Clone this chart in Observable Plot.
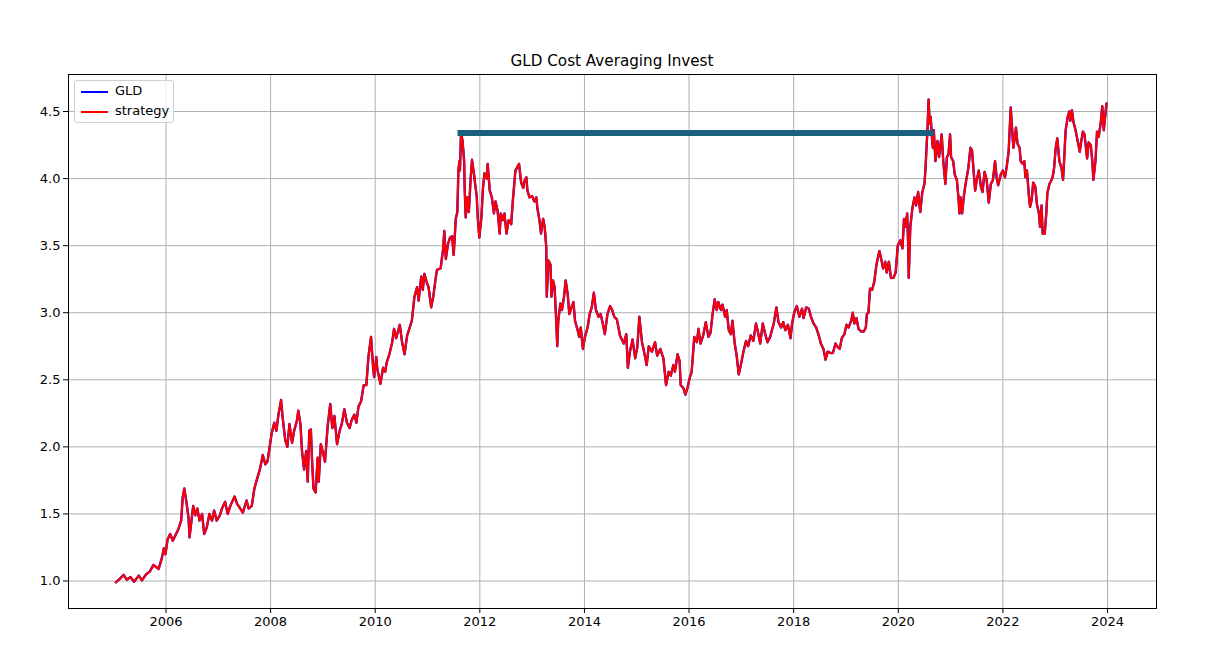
<!DOCTYPE html>
<html>
<head>
<meta charset="utf-8">
<script src="https://cdn.jsdelivr.net/npm/d3@7"></script>
<script src="https://cdn.jsdelivr.net/npm/@observablehq/plot@0.6"></script>
<style>
  html, body { margin: 0; padding: 0; background: white; }
  #wrap { position: relative; width: 1218px; height: 662px; font-family: "DejaVu Sans", sans-serif; }
  #title { position: absolute; left: 68px; width: 1088px; top: 52px; text-align: center; font-size: 15.2px; color: black; }
  #legend { position: absolute; left: 74px; top: 80px; width: 98px; height: 41px; border: 1px solid #d0d0d0; border-radius: 3px; background: rgba(255,255,255,0.8); font-size: 13px; }
  .item { position: absolute; left: 6px; height: 16px; }
  .swatch { position: absolute; left: 0; top: 7px; width: 27px; height: 2px; }
  .lab { position: absolute; left: 34px; top: -1px; white-space: nowrap; }
</style>
</head>
<body>
<div id="wrap">
  <div id="chart"></div>
  <div id="title">GLD Cost Averaging Invest</div>
  <div id="legend">
    <div class="item" style="top:3px"><div class="swatch" style="background:#0000ff"></div><div class="lab">GLD</div></div>
    <div class="item" style="top:23px"><div class="swatch" style="background:#ff0000"></div><div class="lab">strategy</div></div>
  </div>
</div>
<script>
// Time in decimal years, normalised price
const years = [
  2005.04,2005.10,2005.19,2005.25,2005.32,2005.39,2005.48,2005.54,2005.62,2005.69,2005.76,2005.86,2005.92,2005.96,2005.99,
  2006.03,2006.08,2006.13,2006.18,2006.24,2006.29,2006.32,2006.35,2006.39,2006.43,2006.45,2006.48,2006.52,2006.56,2006.60,2006.64,2006.69,2006.73,2006.78,2006.83,2006.88,2006.92,2006.97,
  2007.03,2007.07,2007.13,2007.18,2007.23,2007.31,2007.36,2007.42,2007.47,2007.54,2007.58,2007.64,2007.69,2007.74,2007.80,2007.85,2007.90,2007.94,2007.99,
  2008.02,2008.07,2008.11,2008.15,2008.20,2008.23,2008.28,2008.32,2008.36,2008.41,2008.45,2008.50,2008.53,2008.57,2008.60,2008.64,2008.68,2008.71,2008.74,2008.77,2008.79,2008.82,2008.86,2008.90,2008.92,2008.96,
  2009.00,2009.04,2009.09,2009.14,2009.18,2009.22,2009.27,2009.32,2009.36,2009.41,2009.46,2009.51,2009.55,2009.60,2009.64,2009.68,2009.73,2009.78,2009.83,2009.87,2009.92,2009.96,2009.98,
  2010.02,2010.04,2010.10,2010.15,2010.19,2010.22,2010.27,2010.32,2010.36,2010.40,2010.47,2010.51,2010.56,2010.61,2010.66,2010.70,2010.75,2010.80,2010.83,2010.88,2010.91,2010.94,2010.99,
  2011.02,2011.07,2011.11,2011.15,2011.18,2011.25,2011.30,2011.32,2011.35,2011.39,2011.43,2011.47,2011.50,2011.54,2011.57,2011.59,2011.61,2011.62,2011.64,2011.67,2011.70,2011.71,2011.73,2011.76,2011.79,2011.82,2011.85,2011.89,2011.91,2011.94,2011.96,2011.99,
  2012.03,2012.06,2012.09,2012.13,2012.15,2012.19,2012.23,2012.27,2012.30,2012.34,2012.38,2012.40,2012.44,2012.47,2012.51,2012.55,2012.60,2012.63,2012.68,2012.71,2012.75,2012.79,2012.83,2012.85,2012.89,2012.91,2012.95,
  2013.00,2013.04,2013.08,2013.10,2013.14,2013.17,2013.21,2013.24,2013.27,2013.28,2013.31,2013.35,2013.37,2013.40,2013.43,2013.46,2013.48,2013.50,2013.54,2013.57,2013.61,2013.64,2013.68,2013.71,2013.75,2013.79,2013.82,2013.87,2013.90,2013.93,2013.97,
  2014.01,2014.06,2014.10,2014.14,2014.18,2014.22,2014.27,2014.31,2014.35,2014.39,2014.44,2014.49,2014.53,2014.57,2014.62,2014.68,2014.75,2014.80,2014.83,2014.87,2014.92,2014.97,
  2015.01,2015.05,2015.10,2015.14,2015.19,2015.23,2015.29,2015.35,2015.39,2015.45,2015.51,2015.56,2015.61,2015.65,2015.70,2015.73,2015.78,2015.82,2015.84,2015.89,2015.93,2015.97,
  2016.01,2016.05,2016.10,2016.15,2016.18,2016.22,2016.27,2016.32,2016.37,2016.41,2016.45,2016.49,2016.53,2016.56,2016.61,2016.64,2016.69,2016.72,2016.76,2016.80,2016.83,2016.87,2016.91,2016.95,2016.99,
  2017.04,2017.09,2017.13,2017.18,2017.23,2017.28,2017.32,2017.36,2017.41,2017.45,2017.50,2017.55,2017.62,2017.67,2017.71,2017.76,2017.80,2017.84,2017.89,2017.94,2017.97,
  2018.01,2018.06,2018.11,2018.16,2018.19,2018.24,2018.29,2018.33,2018.38,2018.43,2018.48,2018.52,2018.57,2018.61,2018.65,2018.70,2018.75,2018.80,2018.83,2018.88,2018.92,2018.97,
  2019.01,2019.05,2019.10,2019.13,2019.16,2019.20,2019.24,2019.29,2019.34,2019.38,2019.40,2019.43,2019.46,2019.50,2019.54,2019.58,2019.61,2019.64,2019.68,2019.71,2019.75,2019.78,2019.82,2019.86,2019.91,2019.95,2019.99,
  2020.04,2020.08,2020.11,2020.14,2020.17,2020.19,2020.20,2020.23,2020.27,2020.31,2020.34,2020.38,2020.42,2020.46,2020.50,2020.52,2020.54,2020.56,2020.58,2020.60,2020.62,2020.64,2020.66,2020.68,2020.71,2020.75,2020.78,2020.83,2020.86,2020.90,2020.93,2020.96,2020.99,
  2021.01,2021.05,2021.08,2021.12,2021.15,2021.17,2021.19,2021.22,2021.26,2021.30,2021.34,2021.38,2021.41,2021.44,2021.47,2021.50,2021.54,2021.58,2021.61,2021.65,2021.69,2021.73,2021.77,2021.81,2021.85,2021.88,2021.91,2021.96,
  2022.00,2022.04,2022.07,2022.11,2022.15,2022.17,2022.20,2022.23,2022.25,2022.28,2022.32,2022.34,2022.38,2022.41,2022.43,2022.46,2022.50,2022.52,2022.55,2022.58,2022.62,2022.65,2022.69,2022.71,2022.74,2022.76,2022.80,2022.83,2022.85,2022.89,2022.93,2022.95,2022.98,
  2023.01,2023.04,2023.08,2023.12,2023.15,2023.17,2023.20,2023.24,2023.27,2023.29,2023.32,2023.35,2023.39,2023.43,2023.47,2023.49,2023.53,2023.56,2023.58,2023.61,2023.64,2023.68,2023.71,2023.73,2023.77,2023.80,2023.83,2023.87,2023.90,2023.93,2023.96,2023.98
];
const gld = [
  0.99,1.01,1.045,1.01,1.03,0.995,1.04,1.005,1.05,1.07,1.12,1.09,1.17,1.245,1.2,
  1.31,1.35,1.30,1.34,1.39,1.45,1.625,1.69,1.59,1.475,1.325,1.425,1.56,1.49,1.54,1.45,1.50,1.35,1.40,1.50,1.45,1.525,1.45,
  1.49,1.54,1.59,1.50,1.56,1.63,1.575,1.54,1.51,1.60,1.54,1.56,1.69,1.76,1.84,1.94,1.87,1.89,2.02,
  2.10,2.18,2.12,2.24,2.35,2.22,2.05,2.00,2.17,2.03,2.12,2.19,2.27,2.17,1.97,1.83,1.97,1.74,2.12,2.13,1.92,1.69,1.66,1.92,1.74,2.02,
  1.96,1.89,2.15,2.32,2.14,2.23,2.02,2.12,2.17,2.28,2.18,2.14,2.20,2.24,2.18,2.30,2.34,2.46,2.46,2.67,2.82,2.59,2.52,
  2.67,2.58,2.47,2.59,2.56,2.63,2.69,2.77,2.88,2.81,2.91,2.79,2.69,2.83,2.89,2.94,3.12,3.19,3.09,3.27,3.17,3.29,3.22,
  3.19,3.04,3.12,3.24,3.32,3.33,3.48,3.61,3.40,3.51,3.56,3.57,3.43,3.70,3.75,4.06,4.13,4.06,4.34,4.28,4.13,3.93,3.71,3.86,3.75,3.97,4.14,4.03,3.96,3.87,3.71,3.56,
  3.71,3.93,4.04,4.00,4.11,3.91,3.86,3.74,3.83,3.76,3.59,3.74,3.69,3.74,3.59,3.69,3.66,3.83,4.06,4.08,4.11,3.97,3.93,3.98,4.01,3.91,3.86,
  3.87,3.83,3.86,3.78,3.69,3.59,3.70,3.64,3.49,3.12,3.39,3.36,3.12,3.24,3.19,2.94,2.75,2.94,3.07,3.02,3.12,3.24,3.14,2.99,3.04,3.08,2.94,2.87,2.82,2.89,2.73,
  2.82,2.89,2.99,3.04,3.15,3.02,2.97,2.99,2.92,2.84,2.99,3.05,3.02,2.97,2.95,2.83,2.77,2.84,2.59,2.71,2.80,2.66,
  2.74,2.97,2.78,2.71,2.61,2.75,2.71,2.78,2.68,2.73,2.66,2.46,2.56,2.53,2.61,2.56,2.69,2.64,2.46,2.44,2.39,2.44,
  2.51,2.56,2.82,2.78,2.88,2.77,2.83,2.93,2.82,2.85,2.99,3.10,3.02,3.08,3.02,3.06,2.97,3.02,2.87,2.84,2.94,2.78,2.68,2.54,2.61,
  2.71,2.79,2.75,2.83,2.79,2.92,2.85,2.77,2.92,2.85,2.78,2.82,2.92,3.04,2.93,2.89,2.93,2.87,2.91,2.81,2.92,
  3.00,3.05,2.97,3.03,2.96,3.04,3.03,2.97,2.92,2.89,2.83,2.77,2.73,2.65,2.71,2.70,2.70,2.77,2.75,2.73,2.81,2.84,
  2.91,2.89,2.94,3.00,2.92,2.96,2.88,2.86,2.86,2.89,2.99,3.00,3.18,3.17,3.23,3.35,3.41,3.46,3.39,3.33,3.38,3.30,3.38,3.26,3.26,3.30,3.50,
  3.54,3.48,3.70,3.64,3.74,3.49,3.26,3.64,3.78,3.86,3.80,3.90,3.75,3.90,3.96,4.07,4.23,4.38,4.59,4.41,4.46,4.33,4.23,4.36,4.13,4.28,4.16,4.33,4.13,3.96,4.16,4.18,4.33,
  4.16,4.13,4.03,3.99,3.86,3.74,3.86,3.74,3.89,3.99,4.08,4.23,4.21,4.06,3.91,3.99,4.06,3.94,3.90,4.05,3.99,3.82,3.96,3.99,4.13,4.01,3.95,4.03,
  4.06,4.01,4.08,4.20,4.53,4.41,4.23,4.31,4.38,4.26,4.23,4.13,4.11,4.13,4.01,4.06,3.86,3.79,3.84,3.97,3.94,3.81,3.74,3.64,3.80,3.59,3.59,3.74,3.89,3.96,3.99,4.01,4.08,
  4.23,4.30,4.13,4.08,3.99,4.13,4.36,4.46,4.50,4.43,4.51,4.42,4.36,4.28,4.20,4.26,4.35,4.33,4.26,4.15,4.27,4.25,4.13,3.99,4.13,4.35,4.31,4.41,4.54,4.36,4.48,4.56
];
// The strategy line sits exactly on top of GLD in the reference
const strategy = gld;

// Longest drawdown period (bar)
const ddStart = [2011.64];
const ddEnd = [2020.63];
const ddLevel = [4.34];

const xTicks = [2006, 2008, 2010, 2012, 2014, 2016, 2018, 2020, 2022, 2024];
const yTicks = [1.0, 1.5, 2.0, 2.5, 3.0, 3.5, 4.0, 4.5];

const chart = Plot.plot({
  width: 1218,
  height: 662,
  marginLeft: 68,
  marginRight: 62,
  marginTop: 74,
  marginBottom: 54,
  style: { fontFamily: "DejaVu Sans, sans-serif", fontSize: "13px", color: "black", background: "white" },
  x: { type: "linear", domain: [2004.136, 2024.937] },
  y: { domain: [0.795, 4.776] },
  marks: [
    Plot.gridX(xTicks, { stroke: "#b0b0b0", strokeOpacity: 1, strokeWidth: 1 }),
    Plot.gridY(yTicks, { stroke: "#b0b0b0", strokeOpacity: 1, strokeWidth: 1 }),
    Plot.line(years, { x: years, y: gld, stroke: "#0000ff", strokeWidth: 2.4 }),
    Plot.line(years, { x: years, y: strategy, stroke: "#ff0000", strokeWidth: 2.1 }),
    Plot.ruleY(ddLevel, { y: ddLevel, x1: ddStart, x2: ddEnd, stroke: "#1a5f80", strokeWidth: 6, strokeLinecap: "square" }),
    Plot.frame({ stroke: "black", strokeWidth: 1 }),
    Plot.axisX(xTicks, { tickFormat: d => String(d), tickSize: 5, tickPadding: 3, label: null, fill: "black", stroke: "black" }),
    Plot.axisY(yTicks, { tickFormat: d => d.toFixed(1), tickSize: 5, tickPadding: 3, label: null, fill: "black", stroke: "black" })
  ]
});
document.getElementById("chart").appendChild(chart);
</script>
</body>
</html>
